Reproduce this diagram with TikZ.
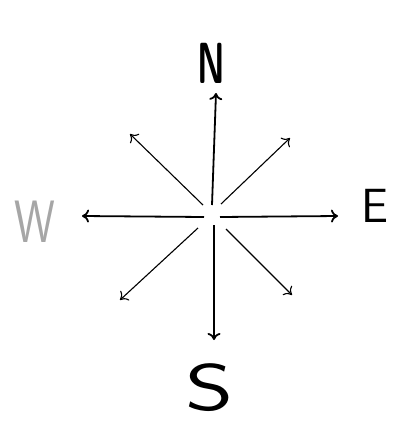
\documentclass[tikz,border=0pt]{standalone}
\usetikzlibrary{arrows.meta}
\begin{document}
\begin{tikzpicture}[x=1pt, y=-1pt,
	pointer/.style={line width=1.8pt, -{To[length=7pt,width=13pt]}},
	slant pointer/.style={line width=1.1pt, -{To[length=7pt,width=13pt]}},
	letter/.style={font=\sffamily, inner sep=0pt}]
	\useasboundingbox (0,0) rectangle (392,423);

	% starting points round the centre
	\coordinate (Sn) at (212,205);
	\coordinate (Ss) at (214,225);
	\coordinate (Se) at (220,217);
	\coordinate (Sw) at (204,217);
	\coordinate (Sne) at (221,204);
	\coordinate (Snw) at (203,205);
	\coordinate (Ssw) at (198,228);
	\coordinate (Sse) at (226,229);

	% arrow ends
	\coordinate (En) at (216,93);
	\coordinate (Es) at (214,340);
	\coordinate (Ee) at (338,216);
	\coordinate (Ew) at (82,216);
	\coordinate (Ene) at (290,138);
	\coordinate (Enw) at (130,134);
	\coordinate (Esw) at (120,300);
	\coordinate (Ese) at (292,295);

	\draw[pointer] (Sn) to (En);
	\draw[pointer] (Ss) to (Es);
	\draw[pointer] (Se) to (Ee);
	\draw[pointer] (Sw) to (Ew);
	\draw[slant pointer] (Sne) to (Ene);
	\draw[slant pointer] (Snw) to (Enw);
	\draw[slant pointer] (Ssw) to (Esw);
	\draw[slant pointer] (Sse) to (Ese);

	\node[letter, xscale=0.6, font=\sffamily\bfseries\fontsize{58}{58}\selectfont] (N) at (211,63){N};
	\node[letter, font=\sffamily\fontsize{48}{48}\selectfont] (E) at (375,206){E};
	\node[letter, xscale=1.4, font=\sffamily\fontsize{66}{66}\selectfont] (S) at (210,388){S};
	\node[letter, gray!70, yscale=1.3, font=\sffamily\fontsize{46}{46}\selectfont] (W) at (35,222){W};
\end{tikzpicture}
\end{document}
